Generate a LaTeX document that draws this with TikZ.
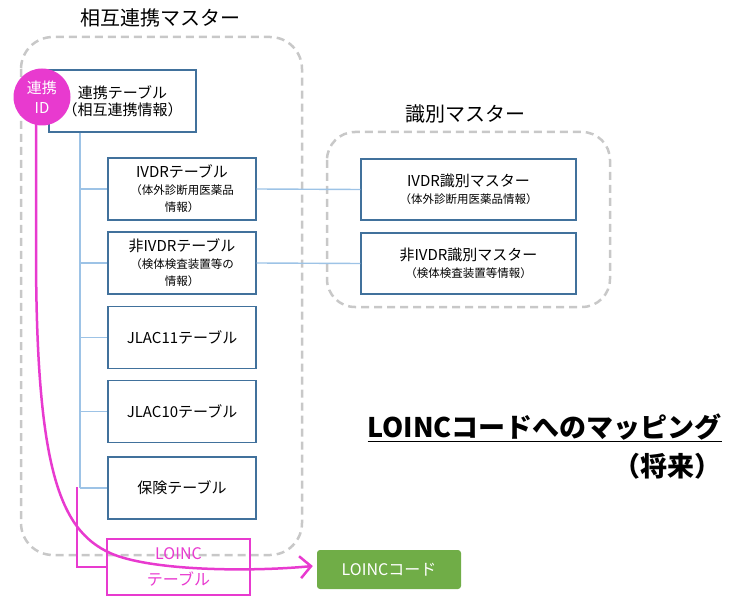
\documentclass[tikz,border=0pt]{standalone}
\usepackage{fontspec}
\setmainfont{Noto Sans CJK JP}
\usetikzlibrary{arrows.meta}
\definecolor{boxc}{HTML}{41719C}
\definecolor{linkc}{HTML}{9DC3E6}
\definecolor{magc}{HTML}{E83ACF}
\definecolor{grnc}{HTML}{70AD47}
\definecolor{dashc}{HTML}{C8C8C8}
\newcommand{\subf}[1]{{\fontsize{11.5}{14}\selectfont #1}}
\begin{document}
\begin{tikzpicture}[x=1pt,y=-1pt,
  tbl/.style={draw=boxc, line width=1.1pt, fill=white, minimum width=148pt, minimum height=62pt,
    align=center, inner sep=0pt, font=\fontsize{15}{17}\selectfont},
  mst/.style={tbl, minimum width=215pt, minimum height=61pt},
  link/.style={draw=linkc, line width=1.4pt},
  grp/.style={draw=dashc, line width=2.5pt, dash pattern=on 8pt off 5pt, rounded corners=32pt},
  ttl/.style={font=\fontsize{20}{24}\selectfont, inner sep=0pt},
  captext/.style={anchor=east, inner sep=0pt, font=\fontsize{27}{30}\selectfont\bfseries}
]
\useasboundingbox (0,0) rectangle (734,596);

% group frames
\draw[grp] (21,37) rectangle (302,555);
\draw[grp, rounded corners=28pt] (327,132) rectangle (610,307);
\node[ttl] (t1title) at (160,18) {相互連携マスター};
\node[ttl] (t2title) at (465,114) {識別マスター};

% tables
\node[tbl, minimum width=147pt] (t0) at (122.5,101) {連携テーブル\\（相互連携情報）};
\node[tbl] (t1) at (182,189) {IVDRテーブル\\\subf{（体外診断用医薬品}\\\subf{情報）}};
\node[tbl] (t2) at (182,263) {非IVDRテーブル\\\subf{（検体検査装置等の}\\\subf{情報）}};
\node[tbl] (t3) at (182,337.5) {JLAC11テーブル};
\node[tbl] (t4) at (182,411.5) {JLAC10テーブル};
\node[tbl] (t5) at (182,488) {保険テーブル};

\node[mst] (m1) at (468.5,189.5) {IVDR識別マスター\\\subf{（体外診断用医薬品情報）}};
\node[mst] (m2) at (468.5,263.5) {非IVDR識別マスター\\\subf{（検体検査装置等情報）}};

% tree
\coordinate (trunk) at (80,0);
\draw[link] (t0.south -| trunk) -- (t5.west -| trunk);
\foreach \n in {t1,t2,t3,t4,t5} \draw[link] (\n.west -| trunk) -- (\n.west);
\draw[link] (t1.east) -- (m1.west);
\draw[link] (t2.east) -- (m2.west);

% LOINC table and code
\node[draw=magc, line width=2.2pt, minimum width=143pt, minimum height=56pt, inner sep=0pt,
  align=center, text=magc, font=\fontsize{16}{26}\selectfont] (lt) at (178.5,567) {LOINC\\テーブル};
\node[fill=grnc, rounded corners=3pt, minimum width=144pt, minimum height=39pt, inner sep=0pt,
  text=white, font=\fontsize{16}{20}\selectfont] (lg) at (389,569.5) {LOINCコード};

\coordinate (mstart) at (77,487);
\draw[magc, line width=1.3pt] (lt.west) -| (mstart);

% ID curve
\coordinate (cstart) at (36,115);
\coordinate (cbend) at (110,553);
\draw[magc, line width=2.5pt, -{Straight Barb[length=11pt,width=22pt,line width=2.5pt]}]
  (cstart) -- (36,250) .. controls (36,470) and (60,530) .. (cbend)
  .. controls (150,571) and (250,572) .. ([yshift=3.5pt,xshift=-4pt]lg.west);

% ID circle
\node[circle, fill=magc, minimum size=57pt, inner sep=0pt, align=center, text=white,
  font=\fontsize{15}{20}\selectfont] (idc) at (42,97) {連携\\ID};

% mapping caption
\node[captext] (cap1) at (722,428) {\underline{LOINCコードへのマッピング}};
\node[captext] (cap2) at (722,466) {（将来）};
\end{tikzpicture}
\end{document}
